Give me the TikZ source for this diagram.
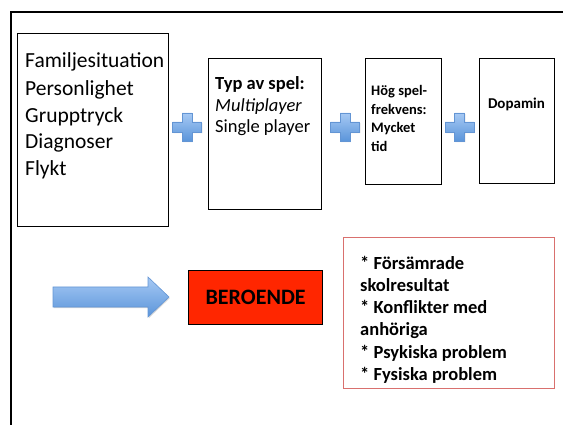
\documentclass[tikz,border=0pt]{standalone}
\usepackage{fontspec}
\setmainfont{Carlito}
\usetikzlibrary{shadows}

\definecolor{blueTop}{HTML}{A6C9F4}
\definecolor{blueBot}{HTML}{5B95DA}
\definecolor{blueLine}{HTML}{6395D4}
\definecolor{redFill}{HTML}{FF2600}
\definecolor{redLine}{HTML}{D9706E}

\begin{document}
\begin{tikzpicture}[x=1pt,y=-1pt,
  box/.style={draw=black,line width=1.2pt,inner sep=0pt,anchor=north west},
  txt/.style={anchor=base west,inner sep=0pt,align=left},
  bluefill/.style={draw=blueLine,line width=0.6pt,top color=blueTop,bottom color=blueBot,
    drop shadow={shadow xshift=0.8pt,shadow yshift=-1.2pt,fill=black!30}},
  pics/plussign/.style={code={
    \path[bluefill] (-5,-14) -- (5,-14) -- (5,-5) -- (14.5,-5) -- (14.5,5) -- (5,5)
      -- (5,14) -- (-5,14) -- (-5,5) -- (-14.5,5) -- (-14.5,-5) -- (-5,-5) -- cycle;
  }}]
  \useasboundingbox (0,0) rectangle (563,425);
  \draw[line width=2pt] (11,430) -- (11,12) -- (570,12);

  \node[box,minimum width=151pt,minimum height=193pt] (orsaker) at (17,33) {};
  \node[box,minimum width=113pt,minimum height=151pt] (spel) at (208,58) {};
  \node[box,minimum width=76pt,minimum height=126pt] (frekvens) at (365,58) {};
  \node[box,minimum width=75pt,minimum height=125pt] (dopamin) at (479,58) {};

  % texts sit on the baseline of their last line
  \node[txt,font=\fontsize{21.5}{27}\selectfont] (orsakerText) at (25,176)
    {Familjesituation\\Personlighet\\Grupptryck\\Diagnoser\\Flykt};
  \node[txt,font=\fontsize{18.5}{21.5}\selectfont] (spelText) at (215,133)
    {\textbf{Typ av spel:}\\\textit{Multiplayer}\\Single player};
  \node[txt,font=\fontsize{14.5}{18.5}\selectfont\bfseries] (frekvensText) at (371,151.5)
    {Hög spel-\\frekvens:\\Mycket\\tid};
  \node[anchor=base,inner sep=0pt,font=\fontsize{15}{18}\selectfont\bfseries] (dopaminText)
    at (516.5,109) {Dopamin};

  \pic at (187,127) {plussign};
  \pic at (345,127) {plussign};
  \pic at (459.5,127) {plussign};

  \path[bluefill] (53,287) -- (148,287) -- (148,277) -- (169,297) -- (148,317)
    -- (148,307) -- (53,307) -- cycle;

  \node[box,fill=redFill,minimum width=134pt,minimum height=54pt] (beroende) at (188,270) {};
  \node[inner sep=0pt,font=\fontsize{22}{26}\selectfont\bfseries] (beroendeText)
    at (beroende.center) {BEROENDE};

  \node[box,draw=redLine,line width=1.3pt,minimum width=211pt,minimum height=151pt]
    (foljder) at (343,237) {};
  \node[txt,font=\fontsize{18.5}{22.3}\selectfont\bfseries] (foljderText) at (360,380.5)
    {* Försämrade\\skolresultat\\* Konflikter med\\anhöriga\\* Psykiska problem\\* Fysiska problem};
\end{tikzpicture}
\end{document}
